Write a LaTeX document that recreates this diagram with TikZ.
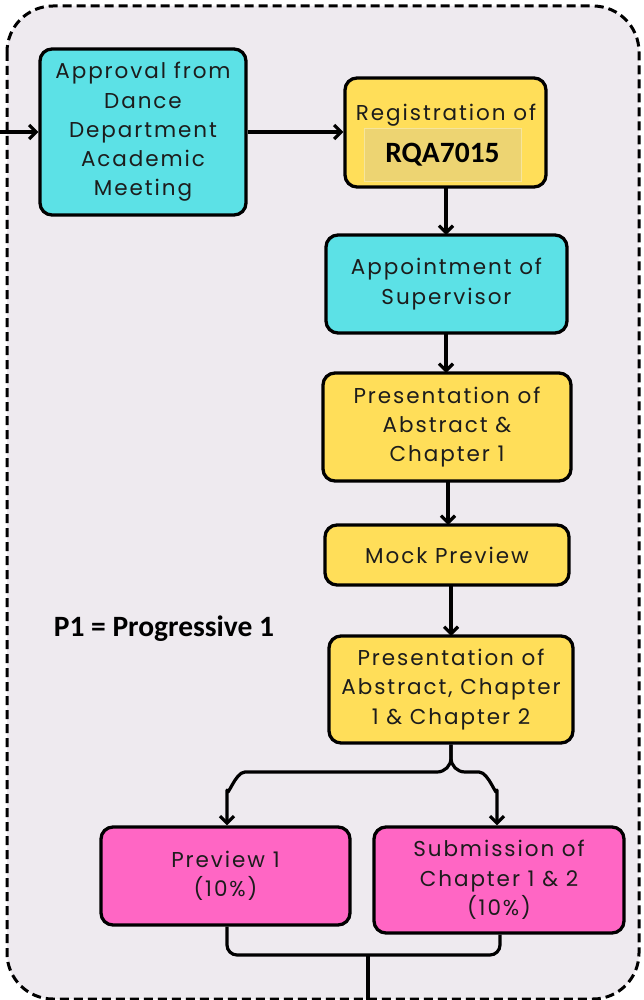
\documentclass[tikz,border=0pt]{standalone}
\usepackage{fontspec}
\usetikzlibrary{arrows.meta,calc}
\newfontfamily\boxfont{Poppins}[LetterSpace=9]
\newfontfamily\labfont{Carlito}
\definecolor{bgin}{HTML}{EEEAEF}
\definecolor{cyanbox}{HTML}{5CE1E6}
\definecolor{yelbox}{HTML}{FFDE59}
\definecolor{pinkbox}{HTML}{FF66C4}
\definecolor{innerbox}{HTML}{EDD472}
\definecolor{innerline}{HTML}{F6E59C}
\definecolor{txt}{HTML}{1C1C1C}
\tikzset{
  flowbox/.style={draw=black, line width=3.3pt, rounded corners=12pt, align=center,
    font=\boxfont\fontsize{21.5}{29.3}\selectfont, text=txt, inner sep=0pt},
  cyanstep/.style={flowbox, fill=cyanbox},
  yelstep/.style={flowbox, fill=yelbox},
  pinkstep/.style={flowbox, fill=pinkbox},
  conn/.style={line width=3.2pt, draw=black},
  barb/.tip={Straight Barb[length=7pt,width=14pt,line width=3.2pt]},
  arr/.style={conn, -barb},
  frame/.style={draw=black, line width=3pt, dash pattern=on 9pt off 5pt, rounded corners=46pt},
  boldlab/.style={font=\labfont\bfseries\fontsize{29.5}{32}\selectfont, text=black},
}
\begin{document}
\begin{tikzpicture}[x=1pt,y=-1pt]
\useasboundingbox (0,0) rectangle (643,1000);
\fill[white] (0,0) rectangle (643,1000);
\path[frame, fill=bgin] (7,6) rectangle (639,999);

\node[cyanstep, minimum width=206pt, minimum height=166pt] (appr) at (143,132)
  {Approval from\\Dance\\Department\\Academic\\Meeting};
\node[yelstep, minimum width=201pt, minimum height=109pt] (reg) at (445.5,132.5) {};
\node[font=\boxfont\fontsize{21.5}{20}\selectfont, text=txt, anchor=base] (regt) at (446,121) {Registration of};
\node[fill=innerbox, draw=innerline, line width=1pt, minimum width=157pt, minimum height=53pt, inner sep=0pt,
  boldlab] (code) at (442.5,155) {RQA7015};
\node[cyanstep, minimum width=241pt, minimum height=98pt] (appt) at (446.5,284)
  {Appointment of\\Supervisor};
\node[yelstep, minimum width=248pt, minimum height=108pt] (pres1) at (447,427)
  {Presentation of\\Abstract \&\\Chapter 1};
\node[yelstep, minimum width=244pt, minimum height=60pt] (mock) at (447,555)
  {Mock Preview};
\node[yelstep, minimum width=244pt, minimum height=107pt] (pres2) at (451,689.5)
  {Presentation of\\Abstract, Chapter\\1 \& Chapter 2};
\node[pinkstep, minimum width=249pt, minimum height=98pt] (prev) at (225.5,876)
  {Preview 1\\(10\%)};
\node[pinkstep, minimum width=250pt, minimum height=106pt] (subm) at (499,880)
  {Submission of\\Chapter 1 \& 2\\(10\%)};

\node[boldlab] (p1) at (164,629) {P1 = Progressive 1};

\coordinate (in) at (0,132);
\coordinate (out) at (368,1000);
\coordinate (split) at (451,758);
\coordinate (join) at (368,955);

\draw[arr] (in) -- (appr.west);
\draw[arr] (appr.east) -- (appr.east -| reg.west);
\draw[arr] (446,187) -- (446,235);
\draw[arr] (446,333) -- (446,373);
\draw[arr] (448,481) -- (448,525);
\draw[arr] (451,585) -- (451,636);

\draw[arr, line join=round]
  (pres2.south) -- (split) to[out=-90,in=0] (437,772) -- (245,772)
  to[out=180,in=-90] (227,790) -- (prev.north -| 227,0);
\draw[arr, line join=round]
  (pres2.south) -- (split) to[out=-90,in=180] (465,772) -- (479,772)
  to[out=0,in=-90] (497,790) -- (subm.north -| 497,0);
\draw[conn, rounded corners=10pt] (prev.south -| 227,0) -- (227,955) -- (500,955) -- (subm.south -| 500,0);
\draw[conn] (join) -- (out);
\end{tikzpicture}
\end{document}
